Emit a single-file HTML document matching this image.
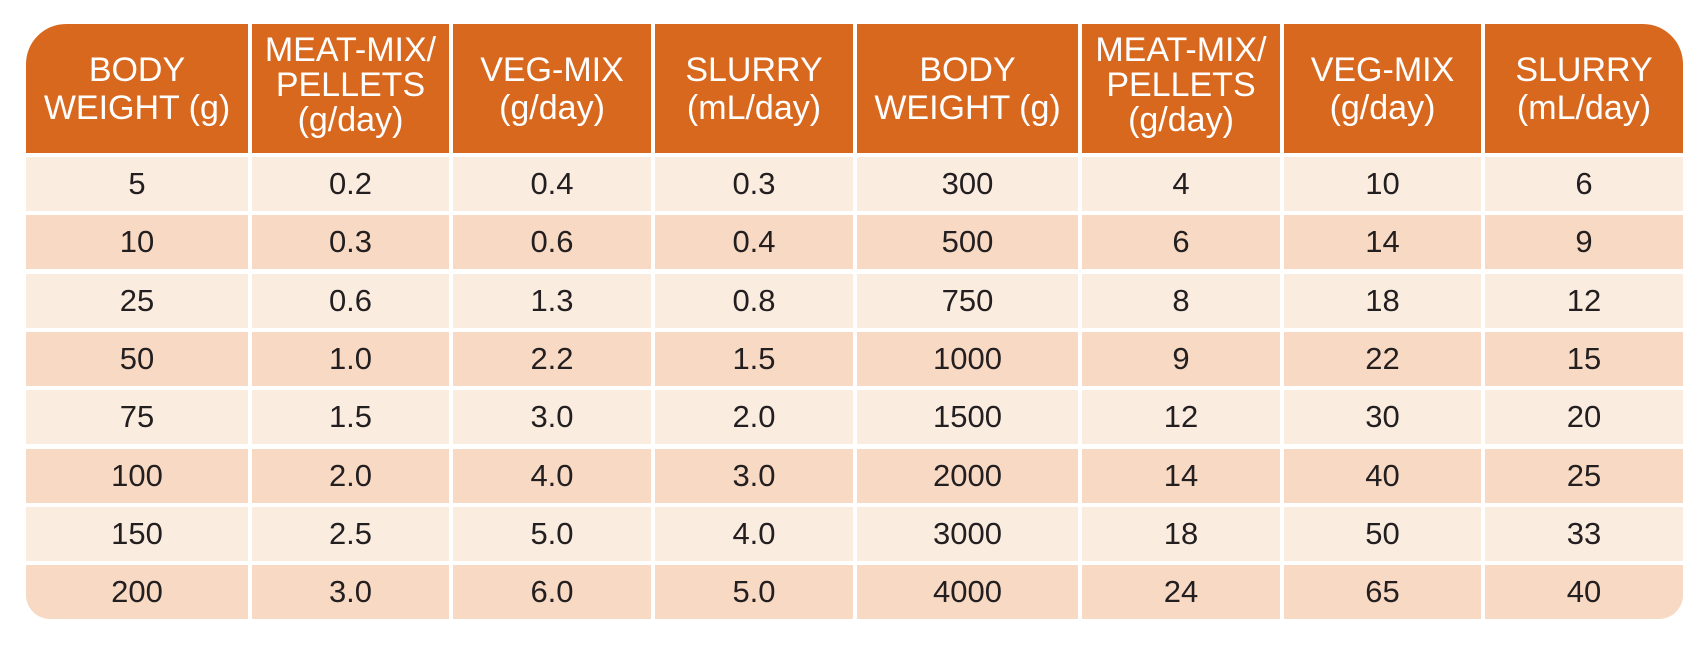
<!DOCTYPE html>
<html><head><meta charset="utf-8"><style>
body{margin:0;width:1703px;height:646px;background:#fff;position:relative;overflow:hidden;font-family:"Liberation Sans",sans-serif}
.c{position:absolute;display:flex;align-items:center;justify-content:center;text-align:center}
.h{background:#D9681F;color:#fff;font-size:34px;line-height:38px}
.h3{line-height:35px;padding-bottom:6px;box-sizing:border-box}
.d{font-size:31px;color:#231F20}
.l{background:#FBECE0}.k{background:#F8D9C3}
</style></head><body>
<div id="t"></div>
<script>
var xs=[[26,248],[252,449],[453,651],[655,853],[857,1078],[1082,1280],[1284,1481],[1485,1683]];
var hd=["BODY<br>WEIGHT (g)","MEAT-MIX/<br>PELLETS<br>(g/day)","VEG-MIX<br>(g/day)","SLURRY<br>(mL/day)","BODY<br>WEIGHT (g)","MEAT-MIX/<br>PELLETS<br>(g/day)","VEG-MIX<br>(g/day)","SLURRY<br>(mL/day)"];
var rows=[["5","0.2","0.4","0.3","300","4","10","6"],["10","0.3","0.6","0.4","500","6","14","9"],["25","0.6","1.3","0.8","750","8","18","12"],["50","1.0","2.2","1.5","1000","9","22","15"],["75","1.5","3.0","2.0","1500","12","30","20"],["100","2.0","4.0","3.0","2000","14","40","25"],["150","2.5","5.0","4.0","3000","18","50","33"],["200","3.0","6.0","5.0","4000","24","65","40"]];
var h="";
xs.forEach(function(x,i){
 var r="";if(i==0)r="border-top-left-radius:40px;";if(i==7)r="border-top-right-radius:40px;";
 h+='<div class="c h'+(hd[i].split("<br>").length==3?' h3':'')+'" style="left:'+x[0]+'px;top:24px;width:'+(x[1]-x[0])+'px;height:129px;'+r+'">'+hd[i]+'</div>';
});
rows.forEach(function(row,j){
 var top=157+Math.round(j*58.3);
 row.forEach(function(v,i){
  var x=xs[i];var r="";
  if(j==7&&i==0)r="border-bottom-left-radius:24px;";
  if(j==7&&i==7)r="border-bottom-right-radius:24px;";
  h+='<div class="c d '+(j%2?'k':'l')+'" style="left:'+x[0]+'px;top:'+top+'px;width:'+(x[1]-x[0])+'px;height:54px;'+r+'">'+v+'</div>';
 });
});
document.getElementById("t").innerHTML=h;
</script>
</body></html>
